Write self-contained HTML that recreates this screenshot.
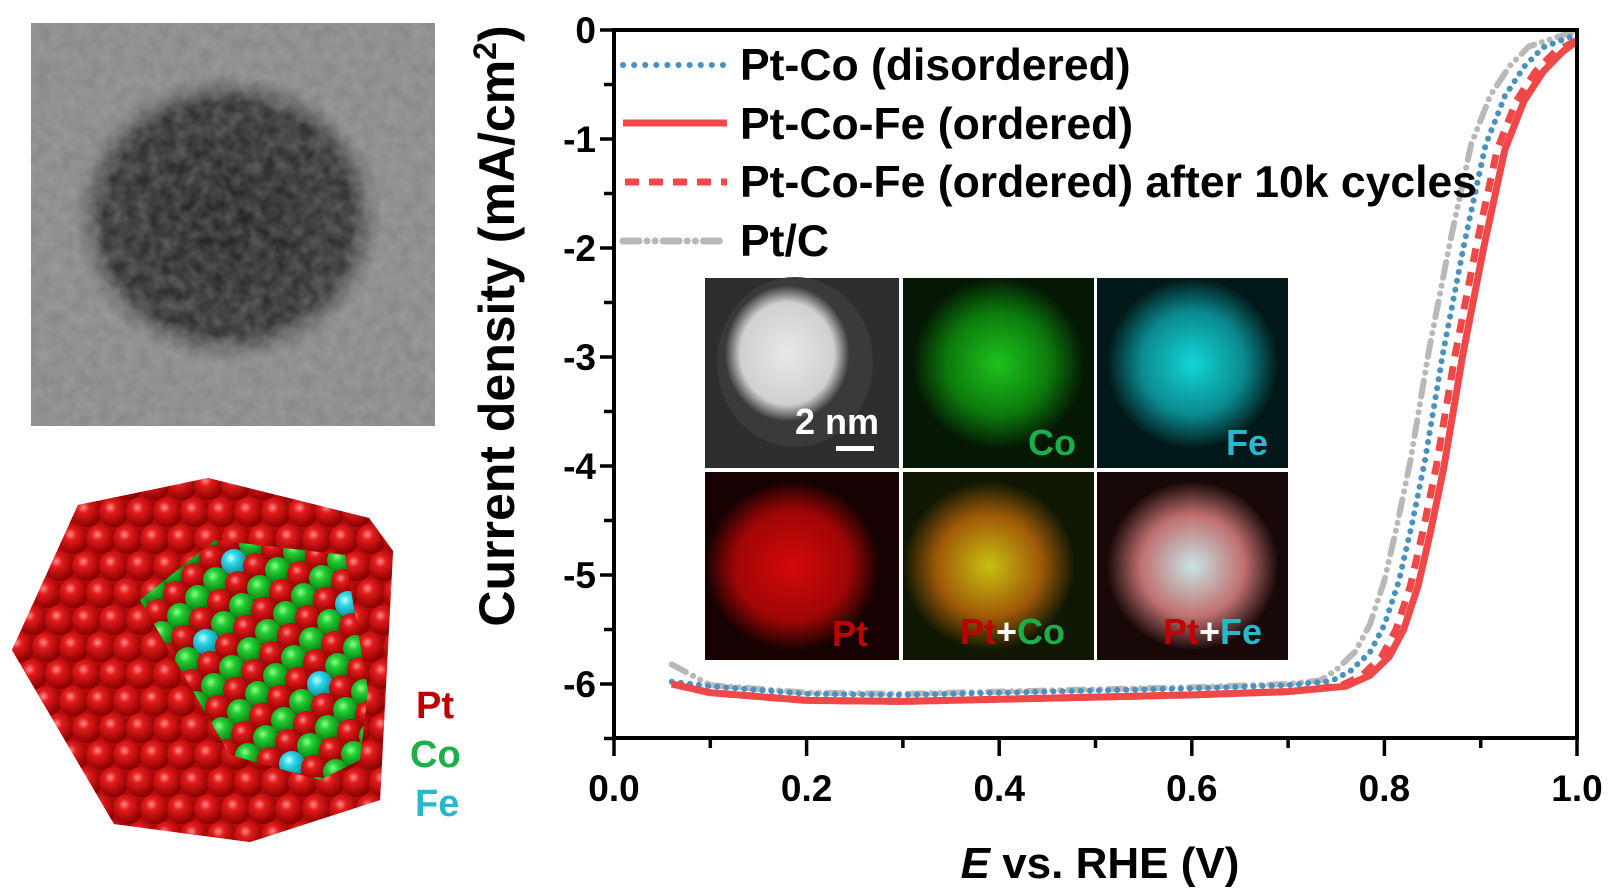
<!DOCTYPE html>
<html><head><meta charset="utf-8"><style>
html,body{margin:0;padding:0;background:#fff;}
body{width:1623px;height:893px;position:relative;overflow:hidden;font-family:"Liberation Sans",Arial,sans-serif;}
</style></head><body>
<svg id="s" width="1623" height="893" viewBox="0 0 1623 893" xmlns="http://www.w3.org/2000/svg" style="position:absolute;left:0;top:0">
<defs>
<filter id="noise" x="0" y="0" width="100%" height="100%">
<feTurbulence type="fractalNoise" baseFrequency="0.08" numOctaves="2" seed="3"/>
<feColorMatrix type="matrix" values="0 0 0 0 0.5  0 0 0 0 0.5  0 0 0 0 0.5  0 0 0 0.9 -0.2"/>
</filter>
<radialGradient id="temC" cx="0.5" cy="0.5" r="0.5">
<stop offset="0" stop-color="#252525"/><stop offset="0.8" stop-color="#353535"/><stop offset="1" stop-color="#5a5a5a" stop-opacity="0"/>
</radialGradient>
<radialGradient id="ball" cx="0.38" cy="0.35" r="0.65">
<stop offset="0" stop-color="#ff8a8a"/><stop offset="0.3" stop-color="#e21b1b"/><stop offset="1" stop-color="#8a0000"/>
</radialGradient>
<radialGradient id="gball" cx="0.38" cy="0.35" r="0.65">
<stop offset="0" stop-color="#8dff8d"/><stop offset="0.35" stop-color="#22cc33"/><stop offset="1" stop-color="#0a7a10"/>
</radialGradient>
<radialGradient id="cball" cx="0.38" cy="0.35" r="0.65">
<stop offset="0" stop-color="#c8ffff"/><stop offset="0.35" stop-color="#2ed8e8"/><stop offset="1" stop-color="#0a8a98"/>
</radialGradient>
<clipPath id="atomClip"><polygon points="78,505 208,478 369,518 393,551 380,800 250,842 114,824 12,650"/></clipPath>
<clipPath id="gClip"><polygon points="140,600 215,540 345,555 368,690 360,760 320,780 230,755"/></clipPath>
<radialGradient id="p1" cx="0.45" cy="0.45" r="0.4"><stop offset="0" stop-color="#e8e8e8"/><stop offset="0.75" stop-color="#d0d0d0"/><stop offset="1" stop-color="#3a3a3a"/></radialGradient>
<radialGradient id="p2" cx="0.5" cy="0.45" r="0.45"><stop offset="0" stop-color="#1ec21e"/><stop offset="0.6" stop-color="#0c7a0c"/><stop offset="1" stop-color="#041804"/></radialGradient>
<radialGradient id="p3" cx="0.5" cy="0.45" r="0.45"><stop offset="0" stop-color="#12d6d6"/><stop offset="0.6" stop-color="#0a8a90"/><stop offset="1" stop-color="#031818"/></radialGradient>
<radialGradient id="p4" cx="0.45" cy="0.5" r="0.45"><stop offset="0" stop-color="#d40808"/><stop offset="0.65" stop-color="#a00606"/><stop offset="1" stop-color="#160202"/></radialGradient>
<radialGradient id="p5" cx="0.45" cy="0.5" r="0.45"><stop offset="0" stop-color="#c8c010"/><stop offset="0.6" stop-color="#a05a08"/><stop offset="1" stop-color="#101804"/></radialGradient>
<radialGradient id="p6" cx="0.5" cy="0.5" r="0.45"><stop offset="0" stop-color="#c8e4e4"/><stop offset="0.6" stop-color="#c07070"/><stop offset="1" stop-color="#180808"/></radialGradient>
</defs>

<rect x="31" y="23" width="404" height="403" fill="#8a8a8a"/>
<ellipse cx="228" cy="218" rx="155" ry="145" fill="url(#temC)"/>
<rect x="31" y="23" width="404" height="403" filter="url(#noise)" opacity="0.55"/>

<g id="atoms" clip-path="url(#atomClip)"><rect x="0" y="470" width="400" height="380" fill="#b00a0a"/></g>
<g id="gatoms" clip-path="url(#gClip)"><rect x="0" y="470" width="400" height="380" fill="#b00a0a"/></g>
<g font-weight="bold" font-size="38">
<text x="416" y="718" fill="#c00000">Pt</text>
<text x="410" y="767" fill="#1aaf4a">Co</text>
<text x="415" y="816" fill="#27b8cc">Fe</text>
</g>

<g>
<rect x="705" y="278" width="194" height="190" fill="#2e2e2e"/><ellipse cx="795" cy="362" rx="78" ry="85" fill="url(#p1)"/>
<rect x="903" y="278" width="191" height="190" fill="#061806"/><rect x="903" y="278" width="191" height="190" fill="url(#p2)"/>
<rect x="1097" y="278" width="191" height="190" fill="#031414"/><rect x="1097" y="278" width="191" height="190" fill="url(#p3)"/>
<rect x="705" y="472" width="194" height="188" fill="#120202"/><rect x="705" y="472" width="194" height="188" fill="url(#p4)"/>
<rect x="903" y="472" width="191" height="188" fill="#0a1404"/><rect x="903" y="472" width="191" height="188" fill="url(#p5)"/>
<rect x="1097" y="472" width="191" height="188" fill="#101010"/><rect x="1097" y="472" width="191" height="188" fill="url(#p6)"/>
<g font-weight="bold" font-size="36">
<text x="795" y="434" fill="#fff">2 nm</text>
<rect x="836" y="446" width="38" height="5" fill="#fff"/>
<text x="1028" y="455" fill="#1aaf4a">Co</text>
<text x="1226" y="455" fill="#27b8cc">Fe</text>
<text x="832" y="646" fill="#c00000">Pt</text>
<text x="960" y="644" fill="#c00000">Pt<tspan fill="#fff">+</tspan><tspan fill="#1aaf4a">Co</tspan></text>
<text x="1163" y="644" fill="#c00000">Pt<tspan fill="#fff">+</tspan><tspan fill="#27b8cc">Fe</tspan></text>
</g>
</g>

<g id="curves" fill="none"></g>

<rect x="614" y="30" width="963" height="708" fill="none" stroke="#000" stroke-width="4"/>
<g id="ticks" stroke="#000" stroke-width="3.5"></g>
<g id="labels" font-weight="bold" font-size="37" fill="#000"></g>
<text x="1100" y="878" text-anchor="middle" font-weight="bold" font-size="44"><tspan font-style="italic">E</tspan> vs. RHE (V)</text>
<text transform="translate(514,326) rotate(-90)" text-anchor="middle" font-weight="bold" font-size="50">Current density (mA/cm<tspan dy="-18" font-size="32">2</tspan><tspan dy="18">)</tspan></text>

<g stroke-width="5" fill="none">
<line x1="623" y1="65" x2="727" y2="65" stroke="#4a90c0" stroke-width="6" stroke-dasharray="0.1 11" stroke-linecap="round"/>
<line x1="623" y1="123" x2="727" y2="123" stroke="#f04848" stroke-width="7"/>
<line x1="625" y1="182" x2="727" y2="182" stroke="#f04848" stroke-width="7" stroke-dasharray="14 10"/>
<line x1="623" y1="241" x2="727" y2="241" stroke="#b8b8b8" stroke-width="7" stroke-dasharray="16 8 0.1 8 0.1 8" stroke-linecap="round"/>
</g>
<g font-weight="bold" font-size="44.5">
<text x="740" y="80">Pt-Co (disordered)</text>
<text x="740" y="139">Pt-Co-Fe (ordered)</text>
<text x="740" y="197">Pt-Co-Fe (ordered) after 10k cycles</text>
<text x="740" y="256">Pt/C</text>
</g>
</svg>
<script>
const NS="http://www.w3.org/2000/svg";
function el(p,t,a){const e=document.createElementNS(NS,t);for(const k in a)e.setAttribute(k,a[k]);p.appendChild(e);return e;}
const X=v=>614+963*v, Y=v=>30-109*v;
const tk=document.getElementById('ticks'), lb=document.getElementById('labels');
for(let i=0;i<=10;i++){const x=X(i/10);el(tk,'line',{x1:x,y1:738,x2:x,y2:i%2?748:756});
 if(i%2==0){const t=el(lb,'text',{x:x,y:801,'text-anchor':'middle'});t.textContent=(i/10).toFixed(1);}}
for(let i=0;i<=13;i++){const v=-i/2,y=Y(v);el(tk,'line',{x1:i%2?604:600,y1:y,x2:614,y2:y});
 if(i%2==0){const t=el(lb,'text',{x:596,y:y+13,'text-anchor':'end'});t.textContent=i==0?'0':String(v);}}
const ag=document.getElementById('atoms'), gg=document.getElementById('gatoms');
for(let r=0;r<14;r++)for(let c=0;c<15;c++){const x=20+c*27+(r%2)*13, y=485+r*27;el(ag,'circle',{cx:x,cy:y,r:15,fill:'url(#ball)'});}
for(let r=0;r<14;r++)for(let c=0;c<14;c++){const x=120+c*22+r*4, y=520+r*22+c*4;const k=(r+c)%2;
 let f=k?'url(#ball)':'url(#gball)'; if(!k&&((r*7+c*3)%11==0))f='url(#cball)';
 el(gg,'circle',{cx:x,cy:y,r:13,fill:f});}
const base=[[0.06,-6.0],[0.1,-6.08],[0.2,-6.15],[0.3,-6.16],[0.4,-6.14],[0.5,-6.12],[0.6,-6.1],[0.7,-6.07],[0.76,-6.02],[0.785,-5.92],[0.805,-5.75],[0.82,-5.5],[0.835,-5.1],[0.848,-4.6],[0.862,-4.0],[0.881,-3.0],[0.903,-2.0],[0.925,-1.1],[0.945,-0.65],[0.965,-0.38],[0.985,-0.2],[1.0,-0.1]];
function path(shift,plat,start,topv){let d='';base.forEach((p,i)=>{let [e,j]=p;
 const s=e>=0.7?Math.min(1,(e-0.7)/0.08):0; e=e-shift*s; j=j+plat*(1-s*0.3);
 if(i==0)j=start; if(i==base.length-1){e=1.0-shift*0.15;j=topv;}
 d+=(i?'L':'M')+X(e).toFixed(1)+','+Y(j).toFixed(1);});return d;}
const cg=document.getElementById('curves');
el(cg,'path',{d:path(0.035,0.07,-5.82,-0.02),stroke:'#b8b8b8','stroke-width':6,'stroke-dasharray':'16 8 0.1 8 0.1 8','stroke-linecap':'round'});
el(cg,'path',{d:path(0.02,0.06,-5.98,-0.05),stroke:'#4a90c0','stroke-width':6,'stroke-dasharray':'0.1 9','stroke-linecap':'round'});
el(cg,'path',{d:path(0.008,0,-6.0,-0.1),stroke:'#f04848','stroke-width':7,'stroke-dasharray':'14 10'});
el(cg,'path',{d:path(0,0,-6.0,-0.1),stroke:'#f04848','stroke-width':7});
</script>
</body></html>
